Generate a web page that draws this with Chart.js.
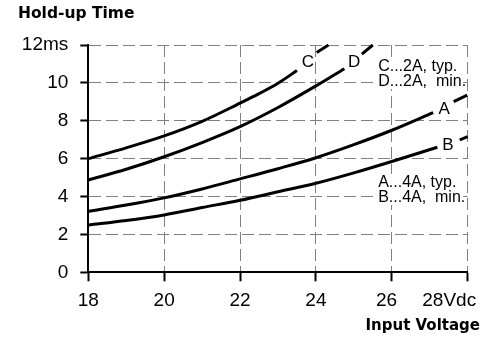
<!DOCTYPE html>
<html>
<head>
<meta charset="utf-8">
<script src="https://cdn.jsdelivr.net/npm/chart.js@4/dist/chart.umd.min.js"></script>
<style>
  body { margin: 0; background: #fff; }
  canvas { display: block; }
</style>
</head>
<body>
<canvas id="chart" width="500" height="341"></canvas>
<script>
// Hold-up time vs input voltage

// C ... 2A, typ.
const cVolts = [18, 19, 20, 21, 22, 22.5, 23, 23.5];
const cHold = [6.0, 6.57, 7.2, 7.97, 8.93, 9.43, 9.98, 10.65];
const cDashVolts = [24.02, 24.33];
const cDashHold = [11.6, 12.0];

// D ... 2A, min.
const dVolts = [18, 19, 20, 21, 22, 23, 24, 24.75];
const dHold = [4.87, 5.44, 6.1, 6.85, 7.69, 8.7, 9.84, 10.75];
const dDashVolts = [25.21, 25.5];
const dDashHold = [11.52, 12.0];

// A ... 4A, typ.
const aVolts = [18, 19, 20, 21, 22, 23, 24, 25, 26, 27.09];
const aHold = [3.22, 3.55, 3.93, 4.4, 4.93, 5.47, 6.05, 6.74, 7.5, 8.43];
const aDashVolts = [27.63, 28];
const aDashHold = [9.01, 9.36];

// B ... 4A, min.
const bVolts = [18, 19, 20, 21, 22, 23, 24, 25, 26, 27.2];
const bHold = [2.5, 2.74, 3.03, 3.42, 3.8, 4.25, 4.7, 5.25, 5.85, 6.6];
const bDashVolts = [27.79, 28];
const bDashHold = [6.99, 7.16];

const xMin = 18, xMax = 28, xStep = 2;
const yMin = 0, yMax = 12, yStep = 2;

const pts = (xs, ys) => xs.map((v, i) => ({ x: v, y: ys[i] }));

function curve(xs, ys, dashed) {
    return {
        data: pts(xs, ys),
        borderColor: '#000',
        borderWidth: 3,
        borderDash: dashed ? [15, 6] : [],
        pointRadius: 0,
        fill: false,
        cubicInterpolationMode: 'monotone',
        clip: 4
    };
}

// letters and notes placed on the curves
const curveLabels = {
    id: 'curveLabels',
    afterDatasetsDraw(chart) {
        const { ctx, scales: { x, y } } = chart;
        ctx.save();
        ctx.fillStyle = '#000';
        ctx.textAlign = 'center';
        ctx.textBaseline = 'alphabetic';
        ctx.font = '17px "Liberation Sans", Arial, sans-serif';
        [['C', 23.79, 11.16], ['D', 25.01, 11.16], ['A', 27.38, 8.66], ['B', 27.48, 6.79]]
            .forEach(([t, vx, vy]) => {
                ctx.fillText(t, x.getPixelForValue(vx), y.getPixelForValue(vy) + 6);
            });

        // note boxes, white behind the text so the grid breaks
        const notes = [
            [11.31, ['C...2A, typ.', 'D...2A,  min.']],
            [5.19, ['A...4A, typ.', 'B...4A,  min.']]
        ];
        ctx.font = '16px "Liberation Sans", Arial, sans-serif';
        ctx.textAlign = 'left';
        notes.forEach(([vTop, lines]) => {
            const left = x.getPixelForValue(25.56);
            const top = y.getPixelForValue(vTop);
            ctx.fillStyle = '#fff';
            ctx.fillRect(left, top, 88, 31);
            ctx.fillStyle = '#000';
            lines.forEach((l, i) => ctx.fillText(l, left + 3, top + 13 + i * 15));
        });

        // x axis title, right of the plot
        ctx.font = 'bold 15px "DejaVu Sans", sans-serif';
        ctx.textAlign = 'right';
        ctx.fillText('Input Voltage', chart.width - 20, 330);
        ctx.restore();
    }
};

const tickFont = { family: '"Liberation Sans", Arial, sans-serif', size: 19 };

new Chart(document.getElementById('chart'), {
    type: 'line',
    data: {
        datasets: [
            curve(cVolts, cHold), curve(cDashVolts, cDashHold, true),
            curve(dVolts, dHold), curve(dDashVolts, dDashHold, true),
            curve(aVolts, aHold), curve(aDashVolts, aDashHold, true),
            curve(bVolts, bHold), curve(bDashVolts, bDashHold, true)
        ]
    },
    options: {
        responsive: false,
        animation: false,
        layout: { padding: { left: 18, right: 32.3, top: 0, bottom: 0 } },
        plugins: {
            legend: { display: false },
            tooltip: { enabled: false },
            title: {
                display: true,
                text: 'Hold-up Time',
                align: 'start',
                color: '#000',
                font: { family: '"DejaVu Sans", sans-serif', size: 15.5, weight: 'bold' },
                padding: { top: 5, bottom: 21.4 }
            }
        },
        scales: {
            x: {
                type: 'linear',
                min: xMin,
                max: xMax,
                afterFit(s) {
                    s.height = 68.7;
                    s.paddingLeft = 0;
                    s.paddingRight = 0;
                },
                ticks: {
                    stepSize: xStep,
                    autoSkip: false,
                    maxRotation: 0,
                    padding: 8,
                    color: '#000',
                    font: tickFont,
                    callback: v => v === 28 ? '28Vdc       ' : (v === 26 ? '26  ' : String(v))
                },
                grid: {
                    color: c => c.tick && c.tick.value === xMin ? 'rgba(0,0,0,0)' : '#808080',
                    lineWidth: 1,
                    tickColor: '#000',
                    tickWidth: 2,
                    tickLength: 9
                },
                border: { display: true, color: '#000', width: 2, dash: [12, 5], z: 1 }
            },
            y: {
                min: yMin,
                max: yMax,
                afterFit(s) {
                    s.width = 70.3;
                    s.paddingTop = 0;
                    s.paddingBottom = 0;
                },
                ticks: {
                    stepSize: yStep,
                    padding: 12,
                    color: '#000',
                    font: tickFont,
                    callback: v => v === 12 ? '12ms' : String(v)
                },
                grid: {
                    color: c => c.tick && c.tick.value === yMin ? 'rgba(0,0,0,0)' : '#808080',
                    lineWidth: 1,
                    tickColor: '#000',
                    tickWidth: 2,
                    tickLength: 8
                },
                border: { display: true, color: '#000', width: 2, dash: [12, 5], z: 1 }
            }
        }
    },
    plugins: [curveLabels]
});
</script>
</body>
</html>
